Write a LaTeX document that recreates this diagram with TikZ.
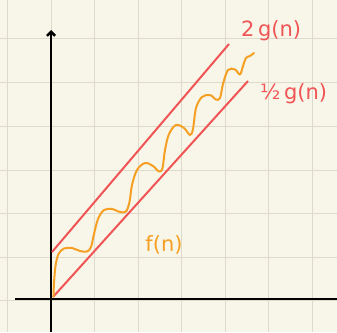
\documentclass[tikz,border=0pt]{standalone}
\usepackage{fontspec}
\setmainfont{DejaVu Sans}
\usetikzlibrary{arrows.meta}
\definecolor{bg}{RGB}{248,245,233}
\definecolor{gridc}{RGB}{222,219,204}
\definecolor{redl}{RGB}{240,85,85}
\definecolor{orangel}{RGB}{245,160,35}
\tikzset{
  axis/.style={line width=2.6pt, black},
  bound/.style={line width=2pt, redl},
  wig/.style={line width=2pt, orangel, line cap=round, line join=round},
  lbl/.style={inner sep=0pt, font=\fontsize{21}{21}\selectfont}
}
\begin{document}
\begin{tikzpicture}[x=1pt,y=-1pt]
\fill[bg] (0,0) rectangle (337,332);
\useasboundingbox (0,0) rectangle (337,332);
% grid
\foreach \x in {7,51,94.5,138,181.5,225,268.5,312}
  \draw[gridc, line width=1pt] (\x,0) -- (\x,332);
\foreach \y in {38,82.5,126,170,213.5,257,300.5}
  \draw[gridc, line width=1pt] (0,\y) -- (337,\y);
% axes
\coordinate (xs) at (15,299);
\coordinate (xe) at (337,299);
\coordinate (ys) at (51,332);
\coordinate (ye) at (51,30);
\draw[axis] (xs) -- (xe);
\draw[axis, -{Straight Barb[length=4pt,width=8pt]}] (ys) -- (ye);
% bounds
\coordinate (ua) at (52,252);
\coordinate (ub) at (229,44);
\coordinate (la) at (53,297);
\coordinate (lb) at (248,81);
\draw[bound] (ua) -- (ub);
\draw[bound] (la) -- (lb);
% f(n)
\draw[wig] plot[smooth, tension=0.55] coordinates {
 (53.5,296.5) (54,283) (55.5,266) (58.5,254) (64,248.5) (72,248) (80,251) (87,251.5)
 (91,247) (94,234) (98,219) (104,210) (112,209) (120,212) (126,211.5)
 (129.5,202) (132,185) (137,170) (145,163) (153,166) (159,171.5) (162.5,168)
 (165,150) (169,134) (176,125) (184,128) (190,135) (193,129)
 (196,108) (202,97) (210,95) (216,99.5) (220,98)
 (223,84) (228,70) (235,69.5) (240,74.5) (243,66)
 (246,58) (250,56) (254,53)};
% labels
\node[lbl, text=redl, anchor=west] (g2) at (241,31) {2\,g(n)};
\node[lbl, text=redl, anchor=west] (gh) at (260,94) {½\,g(n)};
\node[lbl, text=orangel] (fn) at (164,245) {f(n)};
\end{tikzpicture}
\end{document}
